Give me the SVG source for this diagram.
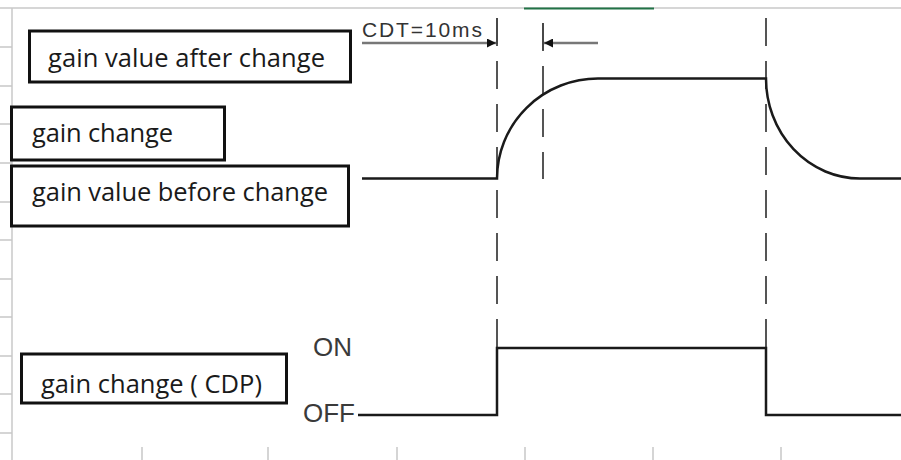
<svg xmlns="http://www.w3.org/2000/svg" width="901" height="460" viewBox="0 0 901 460">
<defs>
<style>
.grid{stroke:#c8c8c8;stroke-width:1.5;fill:none}
.box{fill:#fff;stroke:#111;stroke-width:3}
.lbl{font-family:"Open Sans","Noto Sans","Liberation Sans",sans-serif;font-size:25.5px;fill:#1a1a1a}
.sig{fill:none;stroke:#1a1a1a;stroke-width:2.5}
.dash{fill:none;stroke:#555;stroke-width:2;stroke-dasharray:28 15}
.dim{fill:none;stroke:#777;stroke-width:2.5}
.tick{fill:none;stroke:#444;stroke-width:1.5}
.lvl{font-family:"Liberation Sans",Arial,sans-serif;font-size:26px;fill:#3a3a3a}
.cdt{font-family:"Liberation Sans",Arial,sans-serif;font-size:21px;fill:#333}
</style>
<marker id="ah" viewBox="0 0 10 10" refX="10" refY="5" markerWidth="13" markerHeight="9" markerUnits="userSpaceOnUse" orient="auto">
<path d="M0,0 L10,5 L0,10 z" fill="#111"/>
</marker>
</defs>
<rect x="0" y="0" width="901" height="460" fill="#fff"/>
<g id="sheet-grid">
<line class="grid" x1="0" y1="8" x2="901" y2="8"/>
<line x1="524" y1="8.5" x2="654" y2="8.5" stroke="#217346" stroke-width="2"/>
<line class="grid" x1="12" y1="8" x2="12" y2="460"/>
<path class="grid" d="M0,47H12M0,86H12M0,124H12M0,163H12M0,202H12M0,240H12M0,279H12M0,317H12M0,356H12M0,394H12M0,433H12"/>
<path class="grid" d="M142,447V460M268,447V460M397,447V460M525,447V460M653,447V460M781,447V460"/>
</g>
<g id="connectors">
<g id="guides">
<line class="dash" x1="497" y1="18" x2="497" y2="416"/>
<line class="dash" x1="543" y1="23" x2="543" y2="179"/>
<line class="dash" x1="766" y1="18" x2="766" y2="416"/>
</g>
<g id="gain-waveform">
<path class="sig" d="M362,178.5H497A101,100 0 0 1 598,78.5H766A94,100 0 0 0 860,178.5H901"/>
</g>
<g id="cdp-waveform">
<path class="sig" d="M358,415H497V348H766V415H901"/>
</g>
<g id="cdt-dimension">
<line class="tick" x1="497" y1="18" x2="497" y2="44"/>
<line class="tick" x1="543" y1="23" x2="543" y2="50"/>
<line class="dim" x1="362" y1="43" x2="496" y2="43" marker-end="url(#ah)"/>
<line class="dim" x1="598" y1="43" x2="544" y2="43" marker-end="url(#ah)"/>
</g>
</g>
<g id="cdt-label"><text class="cdt" x="362" y="37" textLength="120" lengthAdjust="spacing">CDT=10ms</text></g>
<g id="node-after"><rect class="box" x="29.5" y="31" width="321" height="51"/><text class="lbl" x="48" y="67" textLength="277" lengthAdjust="spacing">gain value after change</text></g>
<g id="node-change"><rect class="box" x="11.5" y="107" width="213" height="53"/><text class="lbl" x="32" y="142" textLength="141" lengthAdjust="spacing">gain change</text></g>
<g id="node-before"><rect class="box" x="11.5" y="166" width="337" height="60"/><text class="lbl" x="32" y="201" textLength="296" lengthAdjust="spacing">gain value before change</text></g>
<g id="node-cdp"><rect class="box" x="21.5" y="354" width="265" height="49"/><text class="lbl" x="41" y="393" textLength="221" lengthAdjust="spacing">gain change ( CDP)</text></g>
<g id="level-on"><text class="lvl" x="313" y="356">ON</text></g>
<g id="level-off"><text class="lvl" x="303" y="422">OFF</text></g>
</svg>
